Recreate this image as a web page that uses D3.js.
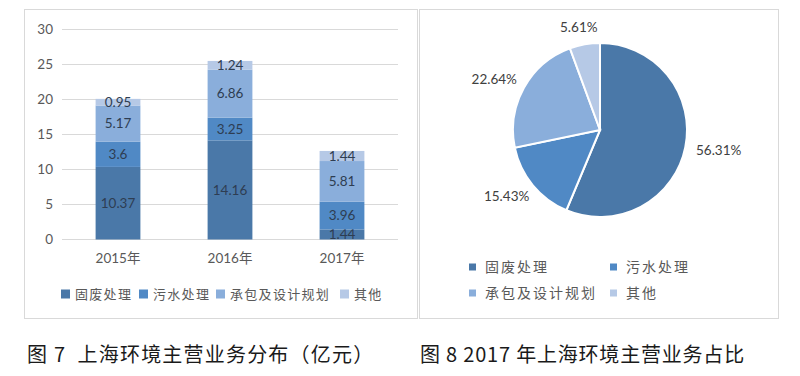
<!DOCTYPE html>
<html>
<head>
<meta charset="utf-8">
<script src="https://cdn.jsdelivr.net/npm/d3@7"></script>
<style>
  body { margin: 0; background: #fff; }
  svg { display: block; }
  text { font-family: Lato, "Noto Sans CJK SC", sans-serif; }
  .cjk { font-family: "Noto Sans CJK SC", sans-serif; }
  .caption { white-space: pre; }
</style>
</head>
<body>
<div id="chart"></div>
<script>
// data
var years = ['2015年', '2016年', '2017年'];
var segments = ['固废处理', '污水处理', '承包及设计规划', '其他'];
var guFei = [10.37, 14.16, 1.44];
var wuShui = [3.6, 3.25, 3.96];
var chengBao = [5.17, 6.86, 5.81];
var qiTa = [0.95, 1.24, 1.44];
var yTicks = [0, 5, 10, 15, 20, 25, 30];
var share2017 = [56.31, 15.43, 22.64, 5.61];

var colors = ['#4a78a8', '#5089c5', '#8aaedb', '#b6c9e6'];

var width = 800, height = 376;
var svg = d3.select('#chart').append('svg')
    .attr('width', width)
    .attr('height', height);

// panel frames
svg.append('rect').attr('x', 24.5).attr('y', 9.5).attr('width', 393).attr('height', 309)
    .attr('fill', 'none').attr('stroke', '#d9d9d9');
svg.append('rect').attr('x', 419.5).attr('y', 9.5).attr('width', 359).attr('height', 309)
    .attr('fill', 'none').attr('stroke', '#d9d9d9');

// ---------- stacked bars ----------
var x = d3.scaleBand().domain(years).range([62, 398]).paddingInner(0.6).paddingOuter(0.3);
var y = d3.scaleLinear().domain([0, 30]).range([239.5, 29.5]);

svg.append('g').selectAll('line')
    .data(yTicks)
    .join('line')
    .attr('x1', 62).attr('x2', 398)
    .attr('y1', d => y(d)).attr('y2', d => y(d))
    .attr('stroke', '#d9d9d9');

svg.append('g').selectAll('text')
    .data(yTicks)
    .join('text')
    .attr('x', 53).attr('y', d => y(d))
    .attr('dy', '0.35em')
    .attr('text-anchor', 'end')
    .attr('font-size', 13.5)
    .attr('fill', '#595959')
    .text(d => d);

var rows = years.map(function (yr, i) {
    return { year: yr, s0: guFei[i], s1: wuShui[i], s2: chengBao[i], s3: qiTa[i] };
});
var stack = d3.stack().keys(['s0', 's1', 's2', 's3']);
var layers = stack(rows);

var layerG = svg.append('g').selectAll('g')
    .data(layers)
    .join('g')
    .attr('fill', (d, i) => colors[i]);

layerG.selectAll('rect')
    .data(d => d)
    .join('rect')
    .attr('x', d => x(d.data.year))
    .attr('width', x.bandwidth())
    .attr('y', d => y(d[1]))
    .attr('height', d => y(d[0]) - y(d[1]));

layerG.selectAll('text')
    .data(d => d)
    .join('text')
    .attr('x', d => x(d.data.year) + x.bandwidth() / 2)
    .attr('y', d => (y(d[0]) + y(d[1])) / 2)
    .attr('dy', '0.36em')
    .attr('text-anchor', 'middle')
    .attr('font-size', 13.5)
    .attr('fill', '#2e3d52')
    .text(d => +(d[1] - d[0]).toFixed(2));

svg.append('g').selectAll('text')
    .data(years)
    .join('text')
    .attr('x', d => x(d) + x.bandwidth() / 2)
    .attr('y', 258)
    .attr('dy', '0.35em')
    .attr('text-anchor', 'middle')
    .attr('font-size', 13.5)
    .attr('fill', '#595959')
    .text(d => d);

// bar legend
var legX = [61, 139, 216, 340];
var barLeg = svg.append('g').selectAll('g')
    .data(segments)
    .join('g')
    .attr('transform', (d, i) => 'translate(' + legX[i] + ',294)');
barLeg.append('rect')
    .attr('x', 0).attr('y', -4.5).attr('width', 9).attr('height', 9)
    .attr('fill', (d, i) => colors[i]);
barLeg.append('text')
    .attr('class', 'cjk')
    .attr('x', 14).attr('dy', '0.35em')
    .attr('font-size', 13)
    .attr('letter-spacing', 1.3)
    .attr('fill', '#595959')
    .text(d => d);

// ---------- pie ----------
var cx = 600, cy = 130, r = 87;
var pie = d3.pie().sort(null).value(d => d);
var arcs = pie(share2017);
var arc = d3.arc().innerRadius(0).outerRadius(r);

var pieG = svg.append('g').attr('transform', 'translate(' + cx + ',' + cy + ')');
pieG.selectAll('path')
    .data(arcs)
    .join('path')
    .attr('d', arc)
    .attr('fill', (d, i) => colors[i])
    .attr('stroke', '#fff')
    .attr('stroke-width', 2);

pieG.selectAll('text')
    .data(arcs)
    .join('text')
    .attr('transform', function (d) {
        var a = (d.startAngle + d.endAngle) / 2;
        var hw = 24, hh = 7, pad = 10;
        var px = Math.sin(a) * (r + pad) + Math.sin(a) * hw;
        var py = -Math.cos(a) * (r + pad) - Math.cos(a) * hh;
        return 'translate(' + px + ',' + py + ')';
    })
    .attr('dy', '0.35em')
    .attr('text-anchor', 'middle')
    .attr('font-size', 13.5)
    .attr('fill', '#404040')
    .text(d => d.data.toFixed(2) + '%');

// pie legend
var pieLegPos = [[469, 267], [610, 267], [469, 293], [610, 293]];
var pieLeg = svg.append('g').selectAll('g')
    .data(segments)
    .join('g')
    .attr('transform', (d, i) => 'translate(' + pieLegPos[i][0] + ',' + pieLegPos[i][1] + ')');
pieLeg.append('rect')
    .attr('x', 0).attr('y', -3.5).attr('width', 7).attr('height', 7)
    .attr('fill', (d, i) => colors[i]);
pieLeg.append('text')
    .attr('class', 'cjk')
    .attr('x', 16).attr('dy', '0.35em')
    .attr('font-size', 14)
    .attr('letter-spacing', 2)
    .attr('fill', '#595959')
    .text(d => d);

// captions
svg.append('text')
    .attr('class', 'cjk caption')
    .attr('x', 27).attr('y', 355).attr('dy', '0.35em')
    .attr('font-size', 20)
    .attr('letter-spacing', 1.2)
    .attr('fill', '#1a1a1a')
    .text('图 7  上海环境主营业务分布（亿元）');
svg.append('text')
    .attr('class', 'cjk caption')
    .attr('x', 420).attr('y', 355).attr('dy', '0.35em')
    .attr('font-size', 20)
    .attr('letter-spacing', 0.8)
    .attr('fill', '#1a1a1a')
    .text('图 8 2017 年上海环境主营业务占比');
</script>
</body>
</html>
